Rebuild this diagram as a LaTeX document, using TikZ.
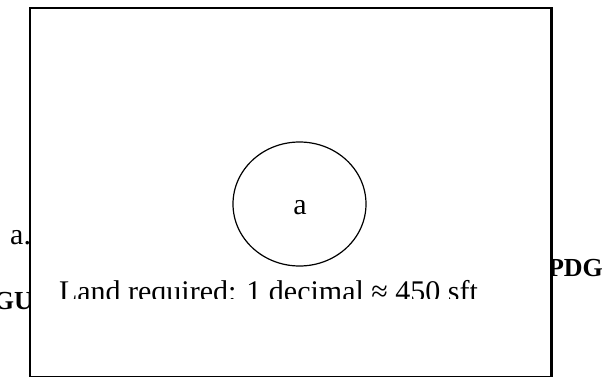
\documentclass[tikz,border=0pt]{standalone}
\usepackage{fontspec}
\setmainfont{Liberation Serif}
\usetikzlibrary{shapes.geometric}
\begin{document}
\begin{tikzpicture}[x=1pt,y=-1pt,
  lbl/.style={inner sep=0pt, outer sep=0pt, font=\fontsize{30}{36}\selectfont},
  blbl/.style={inner sep=0pt, outer sep=0pt, font=\fontsize{26}{31}\selectfont\bfseries},
  frame/.style={draw=black, fill=white, line width=2.8pt, inner sep=0pt, outer sep=0pt},
  ring/.style={draw=black, ellipse, line width=1.2pt, inner sep=0pt}]
\useasboundingbox (0,0) rectangle (607,377);
% labels partly hidden behind the frame
\node[lbl, anchor=base east] (adot) at (31,244) {a.};
\node[blbl, anchor=base east] (gu) at (33,309) {GU};
\node[blbl, anchor=base west] (pdg) at (548,276) {PDG};
% frame
\node[frame, minimum width=521.5pt, minimum height=369.5pt] (box) at (290.75,192.75) {};
% circle
\node[ring, minimum width=133pt, minimum height=124pt] (circ) at (299.5,204) {};
\node[lbl, anchor=base] (atext) at (300,214) {a};
% clipped caption
\begin{scope}
  \clip (33,0) rectangle (550,298);
  \node[lbl, anchor=base west] (land) at (59,301) {Land required: 1 decimal ≈ 450 sft};
\end{scope}
\end{tikzpicture}
\end{document}
